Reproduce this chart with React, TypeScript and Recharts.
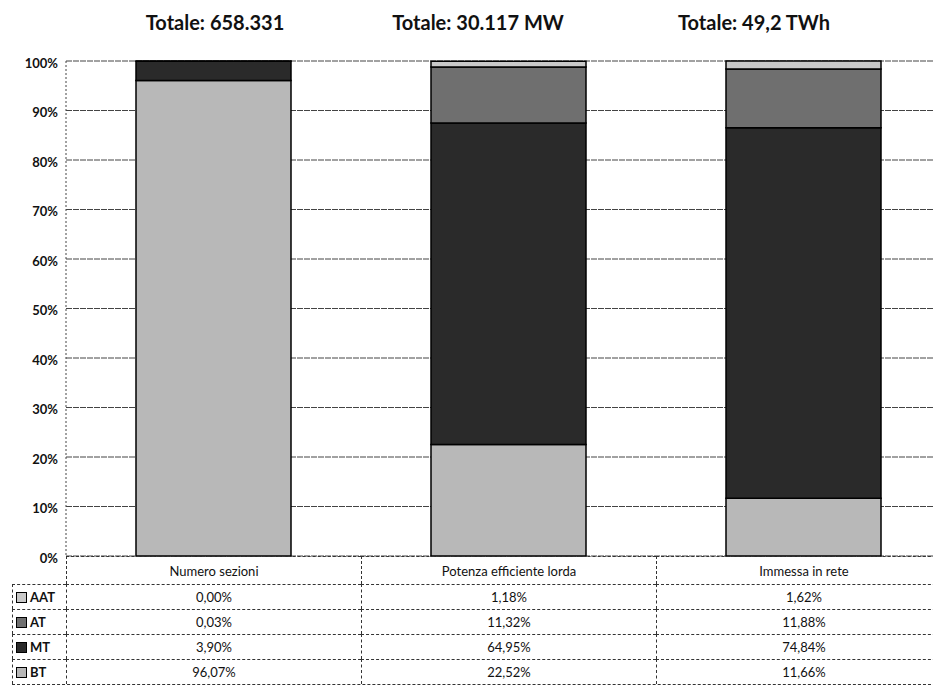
import { Bar, BarChart, CartesianGrid, XAxis, YAxis } from "recharts";

const categories = ["Numero sezioni", "Potenza efficiente lorda", "Immessa in rete"];
const totals = ["Totale: 658.331", "Totale: 30.117 MW", "Totale: 49,2 TWh"];
const bt = [96.07, 22.52, 11.66];
const mt = [3.9, 64.95, 74.84];
const at = [0.03, 11.32, 11.88];
const aat = [0.0, 1.18, 1.62];
const yTicks = [0, 10, 20, 30, 40, 50, 60, 70, 80, 90, 100];

const series = [
  { key: "AAT", values: aat, color: "#c9c9c9" },
  { key: "AT", values: at, color: "#6f6f6f" },
  { key: "MT", values: mt, color: "#2a2a2a" },
  { key: "BT", values: bt, color: "#b8b8b8" },
];

const chartData = categories.map((name, i) => ({
  name,
  BT: bt[i],
  MT: mt[i],
  AT: at[i],
  AAT: aat[i],
}));

const fmt = (v: number) => v.toFixed(2).replace(".", ",") + "%";

const PLOT_LEFT = 58;
const BAND = 295;
const PLOT_TOP = 53;
const PLOT_H = 495;
const FONT = "Lato, 'Open Sans', sans-serif";

const App = () => {
  const border = "1px dashed #333";
  const rowH = 25;
  const tableTop = PLOT_TOP + PLOT_H;
  return (
    <div style={{ position: "relative", width: 933, height: 684, overflow: "hidden", fontFamily: FONT }}>
      {totals.map((t, i) => (
        <div
          key={t}
          style={{
            position: "absolute",
            top: 2,
            left: [207, 470, 746][i] - 120,
            width: 240,
            textAlign: "center",
            fontWeight: 700,
            fontSize: 20,
            color: "#111",
          }}
        >
          {t}
        </div>
      ))}
      <div style={{ position: "absolute", top: 0, left: 0 }}>
        <BarChart
          width={PLOT_LEFT + BAND * 3}
          height={tableTop + 20}
          data={chartData}
          margin={{ top: PLOT_TOP, right: 0, bottom: 20, left: 0 }}
        >
          <CartesianGrid vertical={false} stroke="#444" strokeDasharray="6 1" />
          <XAxis dataKey="name" hide />
          <YAxis
            domain={[0, 100]}
            ticks={yTicks}
            tickFormatter={(v: number) => `${v}%`}
            width={PLOT_LEFT}
            tickLine={false}
            axisLine={{ stroke: "#444", strokeDasharray: "2 2" }}
            tick={{ fill: "#111", fontSize: 13, fontWeight: 700, fontFamily: FONT, dy: 2 }}
          />
          {[...series].reverse().map((s) => (
            <Bar
              key={s.key}
              dataKey={s.key}
              stackId="a"
              fill={s.color}
              stroke="#000"
              strokeWidth={1.5}
              barSize={155}
              isAnimationActive={false}
            />
          ))}
        </BarChart>
      </div>
      <div style={{ position: "absolute", top: tableTop, left: 4, fontSize: 13, color: "#111" }}>
        <div style={{ display: "flex", height: 28 }}>
          <div style={{ width: PLOT_LEFT - 4 }} />
          {categories.map((c) => (
            <div
              key={c}
              style={{
                width: BAND,
                borderLeft: border,
                borderTop: border,
                display: "flex",
                alignItems: "center",
                justifyContent: "center",
                boxSizing: "border-box",
              }}
            >
              {c}
            </div>
          ))}
        </div>
        {series.map((s) => (
          <div key={s.key} style={{ display: "flex", height: rowH }}>
            <div
              style={{
                width: PLOT_LEFT - 4,
                borderLeft: border,
                borderTop: border,
                display: "flex",
                alignItems: "center",
                paddingLeft: 3,
                boxSizing: "border-box",
                fontWeight: 700,
              }}
            >
              <span
                style={{
                  display: "inline-block",
                  width: 9,
                  height: 9,
                  background: s.color,
                  border: "1px solid #000",
                  marginRight: 3,
                }}
              />
              {s.key}
            </div>
            {s.values.map((v, i) => (
              <div
                key={i}
                style={{
                  width: BAND,
                  borderLeft: border,
                  borderTop: border,
                  display: "flex",
                  alignItems: "center",
                  justifyContent: "center",
                  boxSizing: "border-box",
                }}
              >
                {fmt(v)}
              </div>
            ))}
          </div>
        ))}
        <div style={{ borderTop: border, width: PLOT_LEFT - 4 + BAND * 3 }} />
      </div>
    </div>
  );
};

export default App;
